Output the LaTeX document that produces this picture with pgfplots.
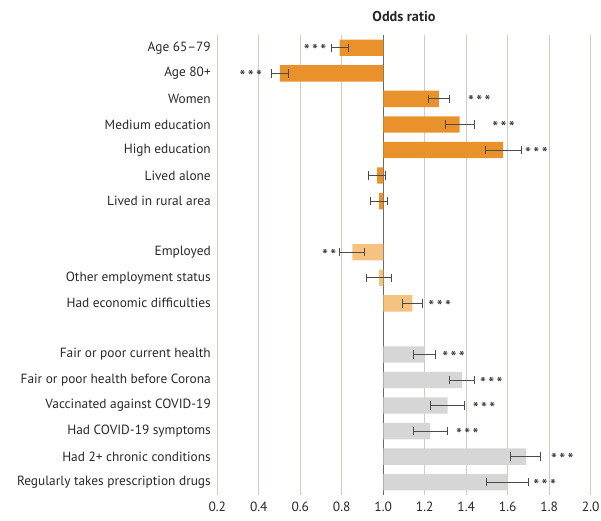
\documentclass[border=0pt]{standalone}
\usepackage{fontspec}
\setmainfont{PT Sans}
\newfontfamily\starfont[LetterSpace=14]{PT Sans}
\usepackage{pgfplots}
\pgfplotsset{compat=1.18}
\usepackage{pgfplotstable}

\definecolor{orangeA}{RGB}{233,146,44}
\definecolor{orangeB}{RGB}{246,194,128}
\definecolor{greyC}{RGB}{214,214,214}
\definecolor{gridC}{RGB}{210,203,197}
\definecolor{baseC}{RGB}{105,105,105}
\definecolor{errC}{RGB}{75,75,75}
\definecolor{txtC}{RGB}{40,40,40}

% Odds ratios with 95% confidence limits; row = position from the top
\pgfplotstableread{
row est lo hi
0 0.790 0.751 0.831
1 0.502 0.459 0.542
2 1.268 1.219 1.318
3 1.368 1.299 1.440
4 1.578 1.490 1.667
5 0.970 0.928 1.010
6 0.980 0.939 1.021
}\demog

\pgfplotstableread{
row est lo hi
8 0.851 0.790 0.909
9 0.980 0.920 1.040
10 1.140 1.090 1.188
}\econ

\pgfplotstableread{
row est lo hi
12 1.198 1.146 1.250
13 1.380 1.318 1.440
14 1.310 1.227 1.390
15 1.227 1.146 1.310
16 1.690 1.615 1.758
17 1.598 1.498 1.700
}\health

% significance stars: right of the interval (pos = left edge of stars)
\pgfplotstableread{
row pos sig
2 1.408 ***
3 1.525 ***
4 1.683 ***
10 1.217 ***
12 1.284 ***
13 1.466 ***
14 1.431 ***
15 1.350 ***
16 1.808 ***
17 1.723 ***
}\starsR

% left of the interval (pos = right edge of stars)
\pgfplotstableread{
row pos sig
0 0.727 ***
1 0.417 ***
8 0.775 **
}\starsL

\begin{document}
\begin{tikzpicture}
\begin{axis}[
  scale only axis,
  width=373.4bp, height=460bp,
  xmin=-0.8, xmax=1.0,
  ymin=-0.5, ymax=17.5,
  y dir=reverse,
  axis line style={draw=none},
  major tick length=0pt,
  xtick={-0.8,-0.6,-0.4,-0.2,0,0.2,0.4,0.6,0.8,1.0},
  xticklabels={0.2,0.4,0.6,0.8,1.0,1.2,1.4,1.6,1.8,2.0},
  ytick={0,1,2,3,4,5,6,8,9,10,12,13,14,15,16,17},
  yticklabels={Age 65–79,Age 80+,Women,Medium education,High education,Lived alone,Lived in rural area,Employed,Other employment status,Had economic difficulties,Fair or poor current health,Fair or poor health before Corona,Vaccinated against COVID-19,Had COVID-19 symptoms,Had 2+ chronic conditions,Regularly takes prescription drugs},
  xmajorgrids,
  grid style={gridC, line width=1.1bp},
  extra x ticks={0},
  extra x tick labels={},
  extra x tick style={grid style={baseC, line width=1.1bp}},
  x tick label style={font=\fontsize{13.5}{15}\selectfont, text=txtC, anchor=north, yshift=-3bp},
  y tick label style={font=\fontsize{13.4}{15}\selectfont, text=txtC, anchor=east, xshift=-3bp},
  title={Odds ratio},
  title style={font=\bfseries\fontsize{14.3}{16}\selectfont, text=txtC, at={(0.5,1)}, anchor=base, yshift=8bp},
  error bars/error mark=|,
  error bars/error bar style={errC, line width=0.8bp},
  error bars/error mark options={errC, line width=0.8bp, mark size=4.2bp},
]
\addplot[xbar, bar width=0.64, bar shift=0pt, fill=orangeA, draw=none,
  error bars/.cd, x dir=both, x explicit]
  table[y=row, x expr=\thisrow{est}-1,
        x error plus expr=\thisrow{hi}-\thisrow{est},
        x error minus expr=\thisrow{est}-\thisrow{lo}] {\demog};
\addplot[xbar, bar width=0.64, bar shift=0pt, fill=orangeB, draw=none,
  error bars/.cd, x dir=both, x explicit]
  table[y=row, x expr=\thisrow{est}-1,
        x error plus expr=\thisrow{hi}-\thisrow{est},
        x error minus expr=\thisrow{est}-\thisrow{lo}] {\econ};
\addplot[xbar, bar width=0.64, bar shift=0pt, fill=greyC, draw=none,
  error bars/.cd, x dir=both, x explicit]
  table[y=row, x expr=\thisrow{est}-1,
        x error plus expr=\thisrow{hi}-\thisrow{est},
        x error minus expr=\thisrow{est}-\thisrow{lo}] {\health};

\addplot[draw=none, mark=none, point meta=explicit symbolic,
  nodes near coords,
  every node near coord/.style={anchor=base west, inner sep=0pt, yshift=-9bp, font=\starfont\fontsize{17}{18}\selectfont, text=txtC}]
  table[y=row, x expr=\thisrow{pos}-1, meta=sig] {\starsR};
\addplot[draw=none, mark=none, point meta=explicit symbolic,
  nodes near coords,
  every node near coord/.style={anchor=base east, inner sep=0pt, yshift=-9bp, font=\starfont\fontsize{17}{18}\selectfont, text=txtC}]
  table[y=row, x expr=\thisrow{pos}-1, meta=sig] {\starsL};
\end{axis}
\pgfresetboundingbox
\path (-217.3bp,-26bp) rectangle (383.7bp,495bp);
\end{tikzpicture}
\end{document}
